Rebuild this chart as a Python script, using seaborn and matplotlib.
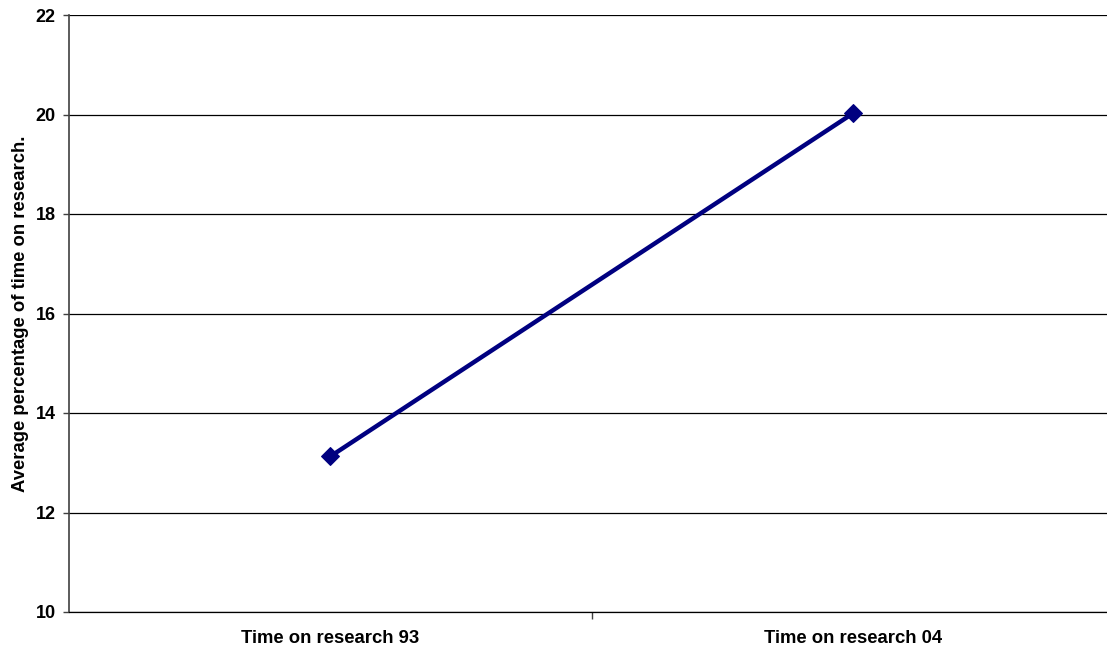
import matplotlib
matplotlib.use("Agg")
import matplotlib.pyplot as plt
import seaborn as sns
import pandas as pd
from matplotlib.ticker import FixedLocator

categories = ["Time on research 93", "Time on research 04"]
values = [13.13, 20.03]
y_ticks = [10, 12, 14, 16, 18, 20, 22]

sns.set_style("white")
plt.rcParams["font.family"] = ["Liberation Sans", "DejaVu Sans"]
plt.rcParams["text.color"] = "black"
plt.rcParams["axes.labelcolor"] = "black"
plt.rcParams["xtick.color"] = "black"
plt.rcParams["ytick.color"] = "black"

df = pd.DataFrame({"period": categories, "pct": values})

fig = plt.figure(figsize=(11.07, 6.49), dpi=100)
ax = fig.add_axes([69 / 1107, 37 / 649, 1046 / 1107, 597 / 649])

sns.lineplot(data=df, x="period", y="pct", sort=False, ax=ax,
             color="#000080", linewidth=3.2, marker="D", markersize=9.5,
             markeredgecolor="#000080", markerfacecolor="#000080", zorder=5)

ax.set_xlim(-0.5, 1.5)
ax.set_ylim(10, 22)
ax.set_yticks(y_ticks)
ax.yaxis.grid(True, color="black", linewidth=0.9)
ax.set_axisbelow(True)

for side in ["top", "right"]:
    ax.spines[side].set_visible(False)
ax.spines["left"].set_color("#404040")
ax.spines["left"].set_linewidth(1.2)
ax.spines["bottom"].set_color("black")
ax.spines["bottom"].set_linewidth(0.9)

ax.tick_params(axis="y", which="major", direction="out", length=4.5, width=1,
               color="#404040", labelcolor="black", labelsize=13, pad=5,
               left=True)
ax.tick_params(axis="x", which="major", length=0, labelsize=13.3, pad=13,
               labelcolor="black")
ax.xaxis.set_minor_locator(FixedLocator([0.5]))
ax.tick_params(axis="x", which="minor", direction="out", length=5, width=1,
               color="#404040", bottom=True)

for lbl in ax.get_yticklabels() + ax.get_xticklabels():
    lbl.set_fontweight("bold")

ax.set_xlabel("")
ax.set_ylabel("Average percentage of time on research.", fontsize=13.3,
              fontweight="bold", color="black")
ax.yaxis.set_label_coords(-0.0468, 0.5)
ax.yaxis.label.set_verticalalignment("center")

fig.savefig("out.png", dpi=100)
